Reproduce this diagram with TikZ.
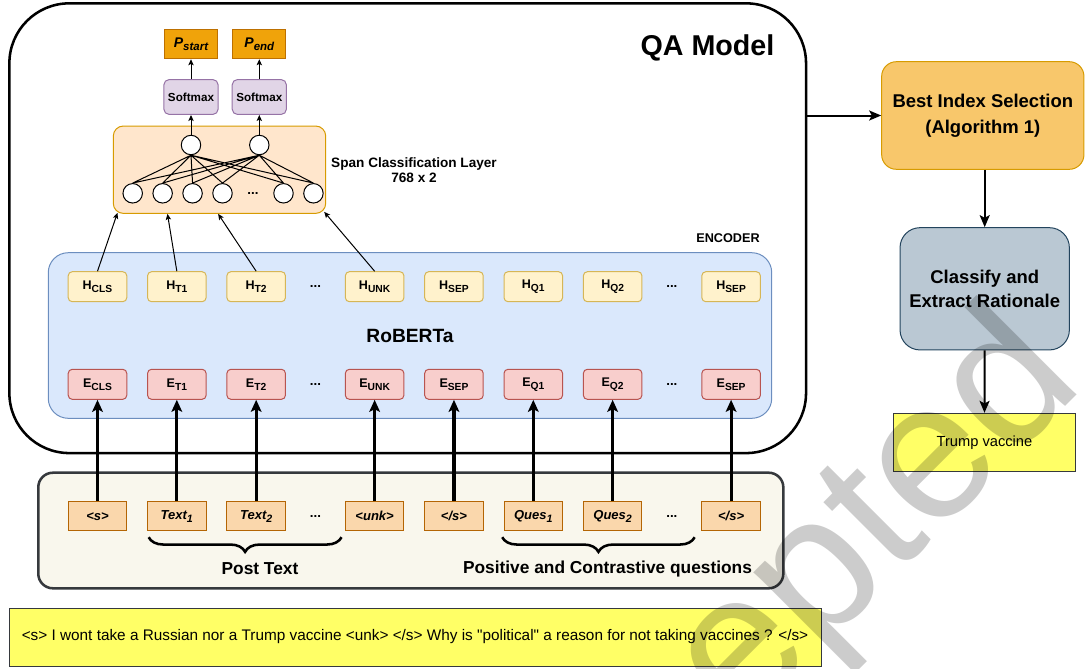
\documentclass[tikz,border=0pt]{standalone}
\usepackage{graphicx}
\usepackage{fontspec}
\setmainfont{Liberation Sans}
\newfontfamily\plainfont{Liberation Sans}
\usetikzlibrary{arrows.meta}
\usetikzlibrary{positioning,calc,decorations.pathreplacing}

\definecolor{hfill}{HTML}{FFF2CC}   \definecolor{hdraw}{HTML}{D6B656}
\definecolor{efill}{HTML}{F8CECC}   \definecolor{edraw}{HTML}{B85450}
\definecolor{tokfill}{HTML}{FAD7AC} \definecolor{tokdraw}{HTML}{B46504}
\definecolor{encfill}{HTML}{DAE8FC} \definecolor{encdraw}{HTML}{6C8EBF}
\definecolor{spanfill}{HTML}{FFE6CC}\definecolor{spandraw}{HTML}{D79B00}
\definecolor{smfill}{HTML}{E1D5E7}  \definecolor{smdraw}{HTML}{9673A6}
\definecolor{pfill}{HTML}{F0A30A}   \definecolor{pdraw}{HTML}{BD7000}
\definecolor{inpfill}{HTML}{F9F7ED} \definecolor{inpdraw}{HTML}{36393D}
\definecolor{bestfill}{HTML}{F8C76B}
\definecolor{clsfill}{HTML}{BAC8D3} \definecolor{clsdraw}{HTML}{23445D}
\definecolor{notefill}{HTML}{FFFF66}

\newcommand{\tsub}[1]{\raisebox{-0.45ex}{\scalebox{0.82}{#1}}}
\newcommand{\fsz}[1]{\fontsize{#1}{1.2\dimexpr#1pt\relax}\selectfont}

\tikzset{
  hbox/.style={draw=hdraw, fill=hfill, rounded corners=3pt, line width=0.75pt,
    minimum width=43.9pt, minimum height=22.5pt, inner sep=0pt, font=\bfseries\fsz{9.4}},
  ebox/.style={hbox, draw=edraw, fill=efill},
  tokbox/.style={draw=tokdraw, fill=tokfill, line width=0.75pt,
    minimum width=43.9pt, minimum height=22pt, inner sep=0pt, font=\bfseries\itshape\fsz{9.75}},
  ellip/.style={minimum width=14.1pt, inner sep=0pt, font=\bfseries\fsz{10}},
  neuron/.style={circle, draw, fill=white, line width=0.75pt, minimum size=14.6pt, inner sep=0pt},
  smbox/.style={draw=smdraw, fill=smfill, rounded corners=4pt, line width=0.75pt,
    minimum width=40.7pt, minimum height=26.2pt, inner sep=0pt, font=\bfseries\fsz{8.75}},
  pbox/.style={draw=pdraw, fill=pfill, line width=0.75pt,
    minimum width=40pt, minimum height=22pt, inner sep=0pt, font=\bfseries\itshape\fsz{10.5}},
  stage/.style={rounded corners=11pt, line width=0.75pt, align=center, inner sep=0pt},
  note/.style={draw=inpdraw, fill=notefill, line width=0.75pt, inner sep=0pt},
  thin arrow/.style={-{Stealth[length=4.5pt,width=4pt,inset=1pt]}, line width=0.75pt},
  mid arrow/.style={-{Stealth[length=9pt,width=7.5pt,inset=2pt]}, line width=1.5pt},
  thick arrow/.style={-{Stealth[length=9pt,width=8pt,inset=2pt]}, line width=2.3pt},
  label/.style={font=\bfseries\fsz{13}},
}

\begin{document}
\begin{tikzpicture}[x=0.75pt, y=-0.75pt, node distance=14.85pt]
  \useasboundingbox (0,0) rectangle (1085,668);

  % QA model frame
  \node[draw, line width=1.9pt, rounded corners=45pt, minimum width=597.5pt,
        minimum height=337.3pt] (qa) at (407.7,228.2) {};
  \node[font=\bfseries\fsz{21.5}] (qalabel) at (707.5,48) {QA Model};

  % Encoder block
  \node[draw=encdraw, fill=encfill, line width=0.75pt, rounded corners=15pt,
        minimum width=542.6pt, minimum height=124.2pt,
        font=\bfseries\fsz{14.4}] (enc) at (410,335.5) {RoBERTa};
  \node[font=\bfseries\fsz{9.5}] (enclabel) at (728,238) {ENCODER};

  % Hidden states
  \node[hbox]                 (hcls)   at (97.5,286.7) {H\tsub{CLS}};
  \node[hbox,right=of hcls]   (ht1)    {H\tsub{T1}};
  \node[hbox,right=of ht1]    (ht2)    {H\tsub{T2}};
  \node[ellip,right=of ht2]   (hdots1) {...};
  \node[hbox,right=of hdots1] (hunk)   {H\tsub{UNK}};
  \node[hbox,right=of hunk]   (hsep1)  {H\tsub{SEP}};
  \node[hbox,right=of hsep1]  (hq1)    {H\tsub{Q1}};
  \node[hbox,right=of hq1]    (hq2)    {H\tsub{Q2}};
  \node[ellip,right=of hq2]   (hdots2) {...};
  \node[hbox,right=of hdots2] (hsep2)  {H\tsub{SEP}};

  % Embeddings
  \node[ebox]                 (ecls)   at (97.5,384.3) {E\tsub{CLS}};
  \node[ebox,right=of ecls]   (et1)    {E\tsub{T1}};
  \node[ebox,right=of et1]    (et2)    {E\tsub{T2}};
  \node[ellip,right=of et2]   (edots1) {...};
  \node[ebox,right=of edots1] (eunk)   {E\tsub{UNK}};
  \node[ebox,right=of eunk]   (esep1)  {E\tsub{SEP}};
  \node[ebox,right=of esep1]  (eq1)    {E\tsub{Q1}};
  \node[ebox,right=of eq1]    (eq2)    {E\tsub{Q2}};
  \node[ellip,right=of eq2]   (edots2) {...};
  \node[ebox,right=of edots2] (esep2)  {E\tsub{SEP}};

  % Span classification head
  \node[draw=spandraw, fill=spanfill, line width=0.75pt, rounded corners=7.5pt,
        minimum width=159.3pt, minimum height=65.5pt] (span) at (219.5,169.7) {};
  \node[neuron]                         (b1) at (132.7,193.3) {};
  \node[neuron,right=7.1pt of b1]       (b2) {};
  \node[neuron,right=7.1pt of b2]       (b3) {};
  \node[neuron,right=7.1pt of b3]       (b4) {};
  \node[ellip,minimum width=15.8pt,right=7.1pt of b4] (bdots) {...};
  \node[neuron,right=7.1pt of bdots]    (b5) {};
  \node[neuron,right=7.1pt of b5]       (b6) {};
  \node[neuron] (n1) at (191,145) {};
  \node[neuron] (n2) at (259.3,145) {};
  \draw[line width=0.75pt]
    (n1.south) -- (b1.north) (n1.south) -- (b2.north) (n1.south) -- (b3.north)
    (n1.south) -- (b4.north) (n1.south) -- (b5.north) (n1.south) -- (b6.north)
    (n2.south) -- (b1.north) (n2.south) -- (b2.north) (n2.south) -- (b3.north)
    (n2.south) -- (b4.north) (n2.south) -- (b5.north) (n2.south) -- (b6.north);
  \node[align=center, font=\bfseries\fsz{10.2}] (spanlabel) at (414,170.3)
    {Span Classification Layer\\[-0.5pt]768 x 2};

  % Outputs
  \node[smbox,above=of n1]    (sm1)    {Softmax};
  \node[smbox,above=of n2]    (sm2)    {Softmax};
  \node[pbox,above=of sm1]    (pstart) {P\tsub{start}};
  \node[pbox,above=of sm2]    (pend)   {P\tsub{end}};
  \draw[thin arrow] (n1) -- (sm1);
  \draw[thin arrow] (n2) -- (sm2);
  \draw[thin arrow] (sm1) -- (pstart);
  \draw[thin arrow] (sm2) -- (pend);

  % Hidden states into the head
  \draw[thin arrow] (hcls.north) -- ([xshift=3.5pt,yshift=0.8pt]span.south west);
  \draw[thin arrow] (ht1.north)  -- ([xshift=41pt]span.south west);
  \draw[thin arrow] (ht2.north)  -- ([xshift=79pt]span.south west);
  \draw[thin arrow] (hunk.north) -- ([xshift=-1.5pt,yshift=1.5pt]span.south east);

  % Input tokens
  \node[draw=inpdraw, fill=inpfill, line width=1.9pt, rounded corners=11pt,
        minimum width=558.8pt, minimum height=86.7pt] (input) at (410.8,530.5) {};
  \node[tokbox]                 (tcls)   at (97.5,516.3) {<s>};
  \node[tokbox,right=of tcls]   (ttext1) {Text\tsub{1}};
  \node[tokbox,right=of ttext1] (ttext2) {Text\tsub{2}};
  \node[ellip,right=of ttext2]  (tdots1) {...};
  \node[tokbox,right=of tdots1] (tunk)   {<unk>};
  \node[tokbox,right=of tunk]   (tsep1)  {</s>};
  \node[tokbox,right=of tsep1]  (tq1)    {Ques\tsub{1}};
  \node[tokbox,right=of tq1]    (tq2)    {Ques\tsub{2}};
  \node[ellip,right=of tq2]     (tdots2) {...};
  \node[tokbox,right=of tdots2] (tsep2)  {</s>};

  \draw[thick arrow] (tcls)   -- (ecls);
  \draw[thick arrow] (ttext1) -- (et1);
  \draw[thick arrow] (ttext2) -- (et2);
  \draw[thick arrow] (tunk)   -- (eunk);
  \draw[thick arrow] (tsep1)  -- (esep1);
  \draw[thick arrow] (tq1)    -- (eq1);
  \draw[thick arrow] (tq2)    -- (eq2);
  \draw[thick arrow] (tsep2)  -- (esep2);

  % Braces under the token groups
  \draw[decorate, decoration={brace, mirror, amplitude=11pt}, line width=1.9pt]
    ([xshift=1.2pt,yshift=-4.3pt]ttext1.south west) -- ([xshift=-2.5pt,yshift=-4.3pt]tunk.south west);
  \draw[decorate, decoration={brace, mirror, amplitude=11pt}, line width=1.9pt]
    ([xshift=-1pt,yshift=-4.3pt]tq1.south west) -- ([xshift=-5pt,yshift=-4.3pt]tsep2.south west);
  \node[label] (postlabel) at (260,569) {Post Text};
  \node[label] (queslabel) at (607.5,569) {Positive and Contrastive questions};

  % Example input
  \node[note, minimum width=609pt, minimum height=43.5pt, font=\plainfont\fsz{11.5}] (sentence) at (415,637)
    {<s> I wont take a Russian nor a Trump vaccine <unk> </s> Why is "political" a reason for not taking vaccines ? </s>};

  % Post-processing
  \node[stage, draw=spandraw, fill=bestfill, minimum width=151.7pt, minimum height=80.7pt,
        font=\bfseries\fontsize{13.85}{19.5}\selectfont] (best) at (982.8,115.5)
    {Best Index Selection\\(Algorithm 1)};
  \node[stage, draw=clsdraw, fill=clsfill, rounded corners=15pt, minimum width=127pt,
        minimum height=91.7pt, font=\bfseries\fontsize{13.85}{18}\selectfont] (classify) at (984.7,288.8)
    {Classify and\\Extract Rationale};
  \node[note, minimum width=136.8pt, minimum height=43.3pt, font=\fsz{11}] (answer) at (984.5,442.2)
    {Trump vaccine};

  \draw[mid arrow] (qa.east |- best.west) -- (best.west);
  \draw[mid arrow] (classify.north |- best.south) -- (classify.north);
  \draw[mid arrow] (classify.south) -- (answer.north);

  % Stamp
  \node[rotate=45, anchor=base east, inner sep=0pt, text=black, text opacity=0.2,
        font=\fsz{146}] (stamp) at (1086,386) {Accepted};
\end{tikzpicture}
\end{document}
